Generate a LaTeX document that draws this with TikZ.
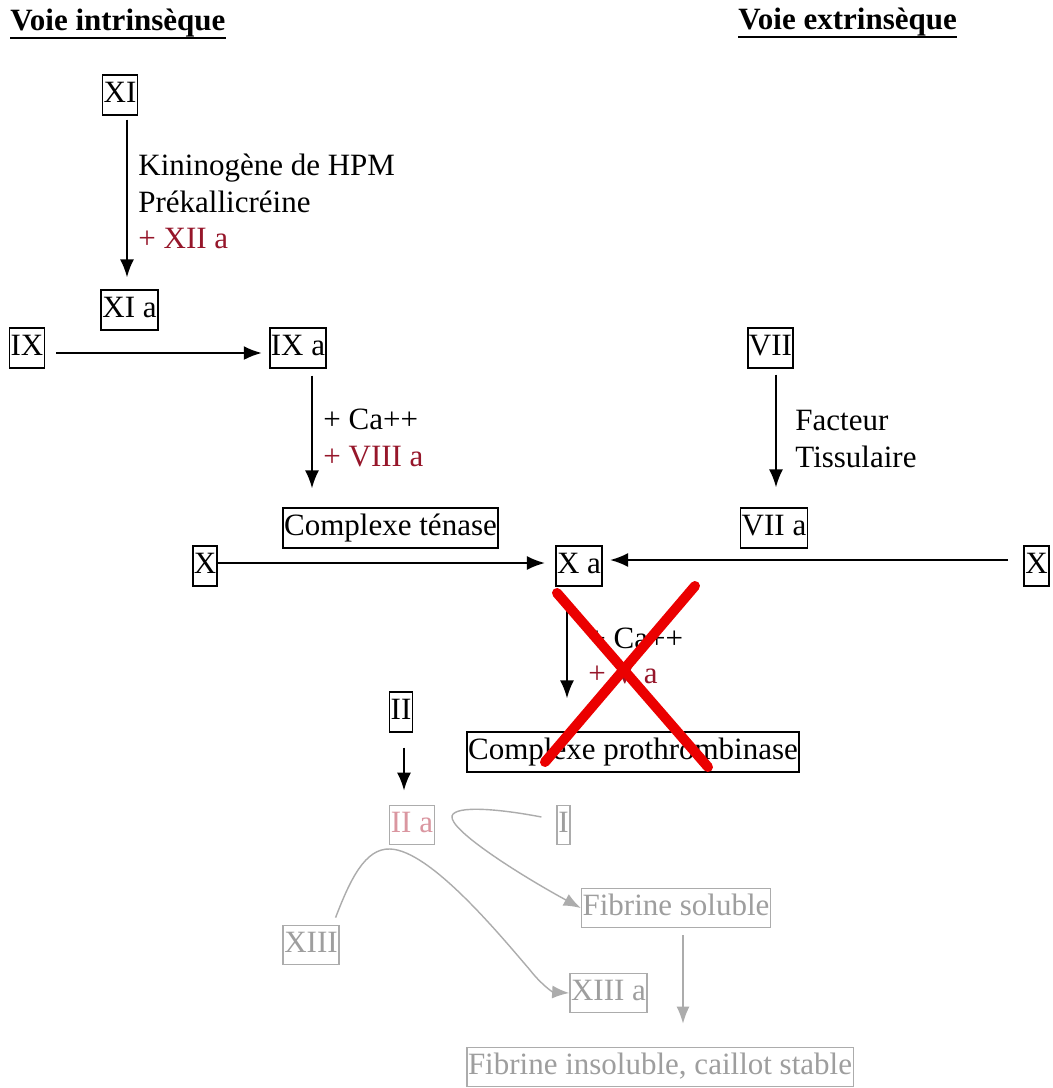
\documentclass[tikz,border=0pt]{standalone}
\usepackage{fontspec}
\setmainfont{Liberation Serif}
\usetikzlibrary{arrows.meta}
\definecolor{fxred}{RGB}{150,22,42}
\definecolor{boxgrey}{RGB}{172,172,172}
\definecolor{txtgrey}{RGB}{158,158,158}
\definecolor{pinkish}{RGB}{218,150,160}
\definecolor{crossred}{RGB}{235,0,0}
\begin{document}
\begin{tikzpicture}[x=0.5pt,y=-0.5pt,
  font=\fontsize{15.5}{18}\selectfont,
  box/.style={draw, line width=0.9pt, inner xsep=0.6pt, inner ysep=2.6pt, text height=11pt, text depth=3.5pt},
  gbox/.style={box, draw=boxgrey, line width=0.7pt, text=txtgrey},
  lbl/.style={anchor=base west, inner sep=0pt},
  ttl/.style={anchor=base west, inner sep=0pt, font=\fontsize{15.5}{18}\selectfont\bfseries},
  arr/.style={line width=1pt, -{Latex[length=9pt,width=7pt]}},
  garr/.style={draw=boxgrey, line width=0.7pt, -{Latex[length=8.5pt,width=6.5pt]}},
  cross/.style={draw=crossred, line width=5pt, line cap=round}
]
\fill[white] (0,0) rectangle (1053,1088);
\useasboundingbox (0,0) rectangle (1053,1088);

% titles
\node[ttl] (ti) at (10,30) {Voie intrinsèque};
\draw[line width=1pt] ([yshift=-0.6pt]ti.south west) -- ([yshift=-0.6pt]ti.south east);
\node[ttl] (te) at (738,29) {Voie extrinsèque};
\draw[line width=1pt] ([yshift=-0.6pt]te.south west) -- ([yshift=-0.6pt]te.south east);

% black boxes
\node[box] (XI)   at (120,95)    {XI};
\node[box] (XIa)  at (129.5,310) {XI a};
\node[box] (IX)   at (27,348)    {IX};
\node[box] (IXa)  at (298,348)   {IX a};
\node[box] (VII)  at (770.5,348) {VII};
\node[box] (CT)   at (390.5,528) {Complexe ténase};
\node[box] (VIIa) at (774,528)   {VII a};
\node[box] (Xl)   at (205,566)   {X};
\node[box] (Xa)   at (579,566)   {X a};
\node[box] (Xr)   at (1036.5,566) {X};
\node[box] (II)   at (401,712)   {II};
\node[box] (CP)   at (633,752)   {Complexe prothrombinase};

% grey boxes
\node[gbox, text=pinkish] (IIa) at (412,825) {II a};
\node[gbox] (I)    at (563.5,825) {I};
\node[gbox] (Fs)   at (676,908)   {Fibrine soluble};
\node[gbox] (XIII) at (311,945)   {XIII};
\node[gbox] (XIIIa) at (608.5,993) {XIII a};
\node[gbox] (Fi)   at (660,1067)  {Fibrine insoluble, caillot stable};

% labels
\node[lbl] (k1) at (138,175) {Kininogène de HPM};
\node[lbl] (k2) at (138,212) {Prékallicréine};
\node[lbl, text=fxred] (k3) at (138,248) {+ XII a};
\node[lbl] (c1) at (323,429) {+ Ca++};
\node[lbl, text=fxred] (c2) at (323,466) {+ VIII a};
\node[lbl] (f1) at (795,430) {Facteur};
\node[lbl] (f2) at (795,467) {Tissulaire};
\node[lbl] (p1) at (588,648) {+ Ca++};
\node[lbl, text=fxred] (p2) at (588,683) {+ V a};

% black arrows
\draw[arr] ([xshift=3.5pt,yshift=-2pt]XI.south) -- ([xshift=-1.25pt,yshift=6pt]XIa.north);
\draw[arr] ([xshift=5.5pt,yshift=-2.5pt]IX.east) -- ([xshift=-3.5pt,yshift=-2.5pt]IXa.west);
\draw[arr] ([xshift=7pt,yshift=-3.5pt]IXa.south) -- ([xshift=-39.25pt,yshift=9.5pt]CT.north);
\draw[arr] ([xshift=2.75pt,yshift=-3pt]VII.south) -- ([xshift=1pt,yshift=10pt]VIIa.north);
\draw[arr] ([yshift=1.5pt]Xl.east) -- ([xshift=-5pt,yshift=1.5pt]Xa.west);
\draw[arr] ([xshift=-7.5pt,yshift=3pt]Xr.west) -- ([xshift=3.5pt,yshift=3pt]Xa.east);
\draw[arr] ([xshift=-6pt,yshift=-11.5pt]Xa.south) -- ([xshift=-33pt,yshift=16.5pt]CP.north);
\draw[arr] ([xshift=1.5pt,yshift=-7.5pt]II.south) -- ([xshift=-4pt,yshift=7pt]IIa.north);

% grey connectors
\draw[garr] ([shift={(-15,-8)}]I.west) .. controls (500,809) and (455,805) .. (452,816)
  .. controls (449,830) and (520,875) .. (Fs.west);
\draw[garr] ([shift={(-4,-7)}]XIII.north east) .. controls (350,880) and (365,848) .. (390,849)
  .. controls (430,850) and (500,935) .. (530,970)
  .. controls (540,983) and (552,992) .. (XIIIa.west);
\draw[garr] ([xshift=3.5pt,yshift=-3.5pt]Fs.south) -- ([xshift=11.5pt,yshift=11.5pt]Fi.north);

% red cross
\coordinate (r1a) at (557,593);
\coordinate (r1b) at (708,767);
\coordinate (r2a) at (695,586);
\coordinate (r2b) at (545,762);
\draw[cross] (r1a) -- (r1b);
\draw[cross] (r2a) -- (r2b);
\end{tikzpicture}
\end{document}
